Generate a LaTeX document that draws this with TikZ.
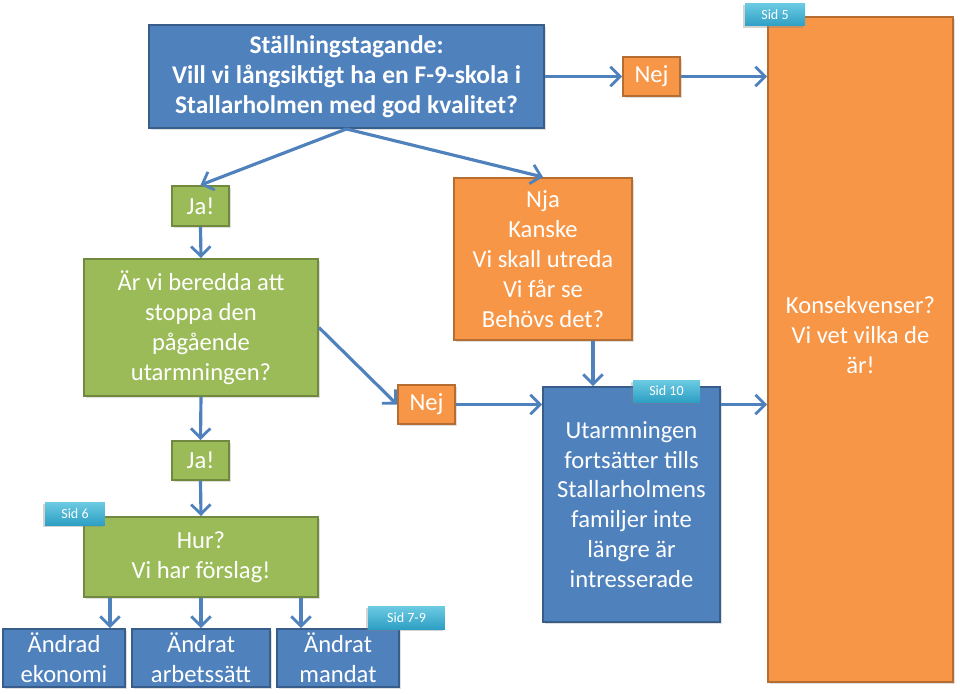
\documentclass[tikz,border=0pt]{standalone}
\usepackage{fontspec}
\setmainfont{Carlito}
\usetikzlibrary{arrows.meta,shadows}

\definecolor{boxblue}{HTML}{4F81BD}
\definecolor{lineblue}{HTML}{385D8A}
\definecolor{boxgreen}{HTML}{9BBB59}
\definecolor{linegreen}{HTML}{71893F}
\definecolor{boxorange}{HTML}{F79646}
\definecolor{lineorange}{HTML}{B66D31}
\definecolor{tagtop}{HTML}{2E9FC4}
\definecolor{tagbottom}{HTML}{6CCBE3}

\tikzset{
  box/.style={draw, line width=1.1pt, text=white, align=center,
              font=\fontsize{14}{17}\selectfont, inner sep=2pt,
              drop shadow={opacity=0.25, shadow xshift=1pt, shadow yshift=-1pt}},
  bluebox/.style={box, fill=boxblue, draw=lineblue},
  greenbox/.style={box, fill=boxgreen, draw=linegreen},
  orangebox/.style={box, fill=boxorange, draw=lineorange},
  sidtag/.style={top color=tagbottom, bottom color=tagtop, text=white,
                 font=\fontsize{8}{9}\selectfont, minimum width=1.2cm,
                 minimum height=0.46cm, inner sep=1pt,
                 drop shadow={opacity=0.35, shadow xshift=-1pt, shadow yshift=-1pt}},
  flow/.style={-{Straight Barb[length=5.5pt,width=11pt,line width=1.6pt]},
               line width=1.8pt, draw=boxblue}
}

\begin{document}
\begin{tikzpicture}[x=0.02cm,y=-0.02cm]
    \useasboundingbox (0,0) rectangle (960,693);

    % Top question and the big consequence box
    \node[bluebox, minimum width=7.9cm, minimum height=2.06cm,
          font=\bfseries\fontsize{14.5}{17}\selectfont] (title) at (346.5,76.5)
          {Ställningstagande:\\Vill vi långsiktigt ha en F-9-skola i\\Stallarholmen med god kvalitet?};
    \node[orangebox, minimum width=1.14cm, minimum height=0.78cm] (nejtop) at (651.5,76.5) {Nej};
    \node[orangebox, minimum width=3.7cm, minimum height=13.3cm] (konsek) at (860.5,349.5) {};
    \node[align=center, text=white, font=\fontsize{14}{17}\selectfont] (konsektext) at (860.5,335)
          {Konsekvenser?\\Vi vet vilka de\\är!};
    \node[sidtag] (sid5) at (775,14.5) {Sid 5};

    % Left branch
    \node[greenbox, minimum width=1.14cm, minimum height=0.8cm] (ja1) at (200.5,206) {Ja!};
    \node[greenbox, minimum width=4.68cm, minimum height=2.74cm] (stoppa) at (201,327.5)
          {Är vi beredda att\\stoppa den\\pågående\\utarmningen?};
    \node[greenbox, minimum width=1.14cm, minimum height=0.78cm] (ja2) at (200.5,460.5) {Ja!};
    \node[greenbox, minimum width=4.68cm, minimum height=1.6cm] (hur) at (201,557)
          {Hur?\\Vi har förslag!};
    \node[sidtag] (sid6) at (75,513.5) {Sid 6};

    % Proposals
    \node[bluebox, minimum width=2.44cm, minimum height=1.16cm] (ekonomi) at (64,658) {Ändrad\\ekonomi};
    \node[bluebox, minimum width=2.76cm, minimum height=1.16cm] (arbetssatt) at (201,658) {Ändrat\\arbetssätt};
    \node[bluebox, minimum width=2.44cm, minimum height=1.16cm] (mandat) at (338,658) {Ändrat\\mandat};
    \node[sidtag, minimum width=1.54cm] (sid79) at (406.5,617.5) {Sid 7-9};

    % Middle branch
    \node[orangebox, minimum width=3.56cm, minimum height=3.24cm] (nja) at (543,259)
          {Nja\\Kanske\\Vi skall utreda\\Vi får se\\Behövs det?};
    \node[orangebox, minimum width=1.14cm, minimum height=0.78cm] (nejmid) at (426.5,404.5) {Nej};
    \node[bluebox, minimum width=3.54cm, minimum height=4.7cm] (utarm) at (631.5,504.5)
          {Utarmningen\\fortsätter tills\\Stallarholmens\\familjer inte\\längre är\\intresserade};
    \node[sidtag, minimum width=1.34cm, minimum height=0.44cm] (sid10) at (666.5,391) {Sid 10};

    % Connectors
    \draw[flow] (title.east) -- (nejtop.west);
    \draw[flow] (nejtop.east) -- (nejtop.east -| konsek.west);
    \draw[flow] (title.south) -- (ja1.north);
    \draw[flow] (title.south) -- (nja.north);
    \draw[flow] (ja1.south) -- (stoppa.north);
    \draw[flow] (stoppa.east) -- (nejmid.west);
    \draw[flow] (stoppa.south) -- (ja2.north);
    \draw[flow] (ja2.south) -- (hur.north);
    \draw[flow] (nejmid.east) -- (nejmid.east -| utarm.west);
    \draw[flow] ([xshift=1cm]nja.south) -- ([xshift=1cm]nja.south |- utarm.north);
    \draw[flow] (utarm.east |- nejmid) -- (konsek.west |- nejmid);
    \foreach \b/\x in {ekonomi/110, arbetssatt/201, mandat/301}
        \draw[flow] (hur.south -| \x,0) -- (\b.north -| \x,0);
\end{tikzpicture}
\end{document}
